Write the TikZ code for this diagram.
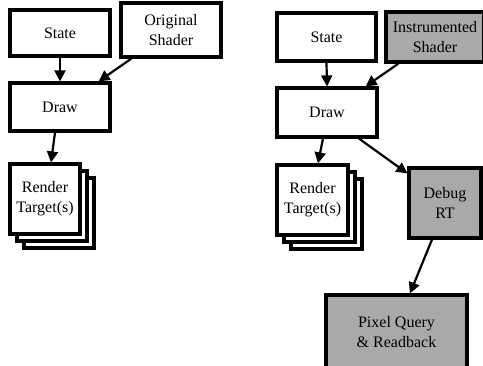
\documentclass[tikz,border=0pt]{standalone}
\usepackage{fontspec}
\setmainfont{Liberation Serif}
\usetikzlibrary{arrows.meta,calc}
\definecolor{boxgrey}{RGB}{169,169,169}
\begin{document}
\begin{tikzpicture}[x=1pt,y=-1pt,
  box/.style={draw=black,line width=3.2pt,fill=white,align=center,inner sep=0pt,
    font=\fontsize{16}{20}\selectfont},
  grey/.style={box,fill=boxgrey},
  arr/.style={line width=2.2pt,-{Triangle[length=11pt,width=11pt]}}]
\useasboundingbox (0,0) rectangle (483,365);
\clip (0,0) rectangle (483,365);
% left panel
\node[box,minimum width=100pt,minimum height=46pt] (stateL) at (60,33) {State};
\node[box,minimum width=100pt,minimum height=54pt] (origL) at (171,30) {Original\\Shader};
\node[box,minimum width=100pt,minimum height=48pt] (drawL) at (60,107) {Draw};
\node[box,minimum width=70pt,minimum height=70pt] (rtLc) at (59,213) {};
\node[box,minimum width=70pt,minimum height=70pt] (rtLb) at (52,206) {};
\node[box,minimum width=70pt,minimum height=70pt] (rtL) at (45,199) {Render\\Target(s)};
\draw[arr] (stateL.south) -- (drawL.north);
\draw[arr] ($(origL.south west)+(12,0)$) -- ($(drawL.north east)+(-13,0)$);
\draw[arr] ($(drawL.south)+(-5,0)$) -- ($(rtL.north)+(6,0)$);
% right panel
\node[box,minimum width=99pt,minimum height=48pt] (stateR) at (326.5,37) {State};
\node[grey,minimum width=98pt,minimum height=50pt] (instR) at (435,37) {Instrumented\\Shader};
\node[box,minimum width=100pt,minimum height=49pt] (drawR) at (327,112.5) {Draw};
\node[box,minimum width=71pt,minimum height=70pt] (rtRc) at (326.5,214) {};
\node[box,minimum width=71pt,minimum height=70pt] (rtRb) at (319.5,207) {};
\node[box,minimum width=71pt,minimum height=70pt] (rtR) at (312.5,200) {Render\\Target(s)};
\node[grey,minimum width=72pt,minimum height=70pt] (dbg) at (445,203) {Debug\\RT};
\node[grey,minimum width=141pt,minimum height=74pt] (pix) at (396.5,332) {Pixel Query\\\& Readback};
\draw[arr] (stateR.south) -- (drawR.north);
\draw[arr] ($(instR.south west)+(14,0)$) -- ($(drawR.north east)+(-13,0)$);
\draw[arr] ($(drawR.south)+(-4,0)$) -- ($(rtR.north)+(5.5,0)$);
\draw[arr] ($(drawR.south)+(32,0)$) -- ($(dbg.north west)+(0,7)$);
\draw[arr] ($(dbg.south)+(-13,0)$) -- ($(pix.north)+(13.5,0)$);
\end{tikzpicture}
\end{document}
